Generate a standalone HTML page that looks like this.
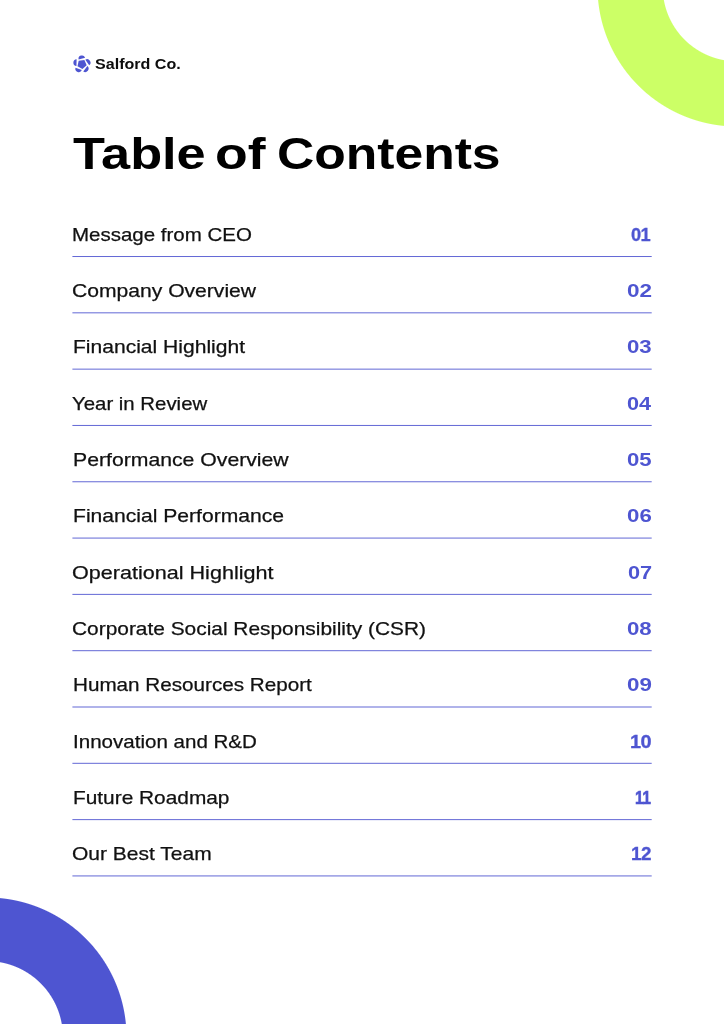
<!DOCTYPE html>
<html lang="en">
<head>
<meta charset="utf-8">
<title>Table of Contents</title>
<style>
html,body{margin:0;padding:0;background:#fff;}
body{width:724px;height:1024px;position:relative;overflow:hidden;font-family:"Liberation Sans",sans-serif;color:#111;}
.art{position:absolute;left:0;top:0;width:724px;height:1024px;display:block;}
.ring{position:absolute;width:282px;height:282px;}
.ring.g{left:596px;top:-154px;background:radial-gradient(circle 141px at 141px 141px,rgba(204,255,102,0) 73.8px,#ccff66 74.8px,#ccff66 139px,rgba(204,255,102,0) 140px);}
.ring.b{left:-154px;top:896px;background:radial-gradient(circle 141px at 141px 141px,rgba(78,85,209,0) 75.4px,#4e55d1 76.4px,#4e55d1 139px,rgba(78,85,209,0) 140px);}
.logo{position:absolute;top:54px;font-size:14px;line-height:20px;font-weight:700;white-space:nowrap;transform-origin:0 0;color:#0d0d0d;}
h1{position:absolute;left:0;top:126px;margin:0;width:724px;height:56px;font-size:44px;line-height:56px;font-weight:700;color:#000;}
h1 span{position:absolute;top:0;white-space:nowrap;transform-origin:0 0;}
.toc{position:absolute;left:0;top:0;width:724px;margin:0;padding:0;list-style:none;}
.toc li{position:absolute;left:0;width:724px;height:30px;margin:0;padding:0;}
.toc .t{position:absolute;top:-1px;font-size:18.5px;line-height:31px;-webkit-text-stroke:0.25px #111;white-space:nowrap;transform-origin:0 0;}
.toc .n{position:absolute;top:0;font-size:18.9px;line-height:29px;font-weight:700;color:#4e55d1;white-space:nowrap;transform-origin:0 0;}
</style>
</head>
<body>

<div class="ring g"></div>
<div class="ring b"></div>
<svg class="art" width="724" height="1024" viewBox="0 0 724 1024">
<rect x="72.4" y="256.02" width="579.3" height="1" fill="#6368d6"/>
<rect x="72.4" y="312.33" width="579.3" height="1" fill="#6368d6"/>
<rect x="72.4" y="368.64" width="579.3" height="1" fill="#6368d6"/>
<rect x="72.4" y="424.95" width="579.3" height="1" fill="#6368d6"/>
<rect x="72.4" y="481.26" width="579.3" height="1" fill="#6368d6"/>
<rect x="72.4" y="537.57" width="579.3" height="1" fill="#6368d6"/>
<rect x="72.4" y="593.88" width="579.3" height="1" fill="#6368d6"/>
<rect x="72.4" y="650.19" width="579.3" height="1" fill="#6368d6"/>
<rect x="72.4" y="706.50" width="579.3" height="1" fill="#6368d6"/>
<rect x="72.4" y="762.81" width="579.3" height="1" fill="#6368d6"/>
<rect x="72.4" y="819.12" width="579.3" height="1" fill="#6368d6"/>
<rect x="72.4" y="875.43" width="579.3" height="1" fill="#6368d6"/>
<g transform="translate(81.93,64.3)" fill="#4e55d1"><polygon points="2.43,-4.20 4.74,1.01 0.51,4.82 -4.43,1.97 -3.25,-3.60"/><path transform="rotate(0)" d="M-3.34,-4.68A3.41,3.41 0 0 1 3.18,-6.62Z"/><path transform="rotate(72)" d="M-3.34,-4.68A3.41,3.41 0 0 1 3.18,-6.62Z"/><path transform="rotate(144)" d="M-3.34,-4.68A3.41,3.41 0 0 1 3.18,-6.62Z"/><path transform="rotate(216)" d="M-3.34,-4.68A3.41,3.41 0 0 1 3.18,-6.62Z"/><path transform="rotate(288)" d="M-3.34,-4.68A3.41,3.41 0 0 1 3.18,-6.62Z"/></g>
</svg>
<div class="logo" style="left:95.10px;transform:scaleX(1.1484)">Salford Co.</div>
<h1><span style="left:72.60px;transform:scaleX(1.1882)">Table</span> <span style="left:215.07px;transform:scaleX(1.2170)">of</span> <span style="left:276.82px;transform:scaleX(1.1724)">Contents</span></h1>
<ul class="toc">
<li style="top:220px"><span class="t" style="left:72.36px;transform:scaleX(1.1075)">Message from CEO</span><span class="n" style="left:631.32px;transform:scaleX(0.9671);letter-spacing:-0.6px;-webkit-text-stroke:0.3px #4e55d1">01</span></li>
<li style="top:276px"><span class="t" style="left:72.42px;transform:scaleX(1.1402)">Company Overview</span><span class="n" style="left:626.85px;transform:scaleX(1.1937)">02</span></li>
<li style="top:332px"><span class="t" style="left:72.66px;transform:scaleX(1.1380)">Financial Highlight</span><span class="n" style="left:627.27px;transform:scaleX(1.1751)">03</span></li>
<li style="top:389px"><span class="t" style="left:72.26px;transform:scaleX(1.1016)">Year in Review</span><span class="n" style="left:626.61px;transform:scaleX(1.1456)">04</span></li>
<li style="top:445px"><span class="t" style="left:72.52px;transform:scaleX(1.1463)">Performance Overview</span><span class="n" style="left:627.47px;transform:scaleX(1.1716)">05</span></li>
<li style="top:501px"><span class="t" style="left:72.98px;transform:scaleX(1.1404)">Financial Performance</span><span class="n" style="left:627.46px;transform:scaleX(1.1780)">06</span></li>
<li style="top:558px"><span class="t" style="left:71.82px;transform:scaleX(1.1661)">Operational Highlight</span><span class="n" style="left:627.98px;transform:scaleX(1.1508)">07</span></li>
<li style="top:614px"><span class="t" style="left:72.39px;transform:scaleX(1.1289)">Corporate Social Responsibility (CSR)</span><span class="n" style="left:627.46px;transform:scaleX(1.1777)">08</span></li>
<li style="top:670px"><span class="t" style="left:72.65px;transform:scaleX(1.1167)">Human Resources Report</span><span class="n" style="left:627.46px;transform:scaleX(1.1829)">09</span></li>
<li style="top:727px"><span class="t" style="left:72.60px;transform:scaleX(1.1107)">Innovation and R&amp;D</span><span class="n" style="left:630.11px;transform:scaleX(1.0542);letter-spacing:-0.6px;-webkit-text-stroke:0.3px #4e55d1">10</span></li>
<li style="top:783px"><span class="t" style="left:72.80px;transform:scaleX(1.1269)">Future Roadmap</span><span class="n" style="left:635.13px;transform:scaleX(0.8282);letter-spacing:-0.8px;-webkit-text-stroke:0.6px #4e55d1">11</span></li>
<li style="top:839px"><span class="t" style="left:71.88px;transform:scaleX(1.1348)">Our Best Team</span><span class="n" style="left:630.88px;transform:scaleX(0.9980);letter-spacing:-0.6px;-webkit-text-stroke:0.3px #4e55d1">12</span></li>
</ul>
</body>
</html>
